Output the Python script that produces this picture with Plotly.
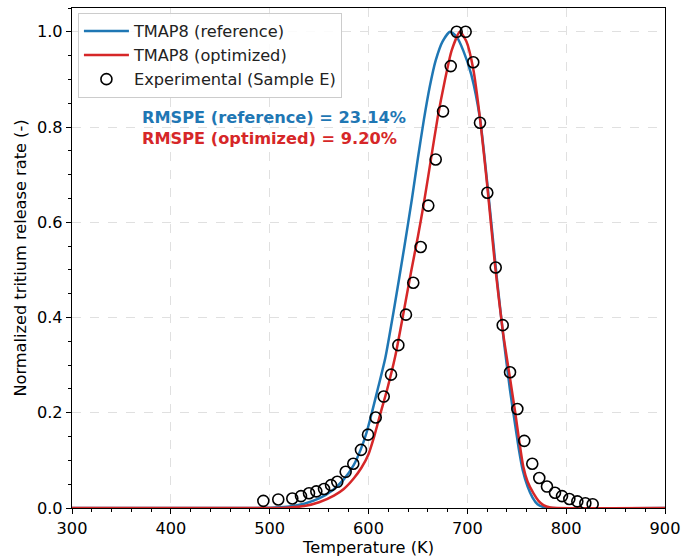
import plotly.graph_objects as go

# Experimental data (Sample E)
exp_T = [493.6, 508.7, 522.9, 531.7, 539.8, 547.2, 555.0, 562.1, 568.4, 576.9, 584.6, 592.4,
         599.5, 607.3, 615.4, 622.8, 630.2, 637.9, 645.3, 652.8, 660.5, 668.0, 675.4, 683.2,
         689.2, 698.3, 706.0, 712.8, 720.2, 728.7, 735.8, 743.2, 750.6, 757.6, 765.7, 772.8,
         780.6, 788.7, 795.8, 803.2, 811.3, 819.4, 826.8]
exp_y = [0.015, 0.018, 0.020, 0.025, 0.031, 0.035, 0.040, 0.048, 0.055, 0.076, 0.093, 0.122,
         0.154, 0.190, 0.234, 0.280, 0.342, 0.406, 0.473, 0.548, 0.635, 0.732, 0.833, 0.928,
         1.000, 1.000, 0.936, 0.809, 0.662, 0.505, 0.384, 0.285, 0.208, 0.141, 0.093, 0.063,
         0.045, 0.032, 0.025, 0.019, 0.014, 0.010, 0.008]

# TMAP8 reference simulation
ref_T = [300, 480, 505, 520, 535, 550, 564, 575, 585, 592, 598, 604, 610, 617, 626, 636, 644,
         650, 656, 662, 668, 675, 682.5, 689, 696, 704, 713, 723, 730, 737, 743, 748, 752, 756,
         761, 766, 771, 777, 785, 900]
ref_y = [0.0, 0.0, 0.001, 0.003, 0.009, 0.020, 0.038, 0.060, 0.090, 0.122, 0.158, 0.205,
         0.255, 0.315, 0.420, 0.545, 0.650, 0.735, 0.815, 0.885, 0.940, 0.980, 1.000, 0.990,
         0.960, 0.910, 0.815, 0.625, 0.480, 0.350, 0.250, 0.180, 0.125, 0.080, 0.045, 0.022,
         0.008, 0.002, 0.0, 0.0]

# TMAP8 optimized simulation
opt_T = [300, 505, 520, 535, 550, 565, 575, 585, 593, 600, 606, 612, 619, 627, 635, 643, 650,
         656, 663, 670, 677, 684, 692.5, 699, 706, 713, 720, 728, 736, 743, 748.5, 752.5,
         756.6, 761, 766.8, 772, 777, 784, 790, 900]
opt_y = [0.0, 0.0, 0.001, 0.004, 0.012, 0.026, 0.040, 0.062, 0.085, 0.113, 0.152, 0.198,
         0.250, 0.318, 0.405, 0.495, 0.570, 0.640, 0.730, 0.820, 0.895, 0.960, 1.000, 0.980,
         0.922, 0.815, 0.680, 0.510, 0.370, 0.275, 0.200, 0.141, 0.087, 0.055, 0.031, 0.015,
         0.006, 0.001, 0.0, 0.0]

x_ticks = [300, 400, 500, 600, 700, 800, 900]
y_ticks = [0.0, 0.2, 0.4, 0.6, 0.8, 1.0]

FONT = "DejaVu Sans"
FS = 16.2
BLUE = "#1f77b4"
RED = "#d62728"

fig = go.Figure()
fig.add_trace(go.Scatter(x=ref_T, y=ref_y, mode="lines", name="TMAP8 (reference)",
                         line=dict(color=BLUE, width=2.5, shape="spline", smoothing=0.6)))
fig.add_trace(go.Scatter(x=opt_T, y=opt_y, mode="lines", name="TMAP8 (optimized)",
                         line=dict(color=RED, width=2.5, shape="spline", smoothing=0.6)))
fig.add_trace(go.Scatter(x=exp_T, y=exp_y, mode="markers", name="Experimental (Sample E)",
                         marker=dict(symbol="circle-open", size=11, color="black",
                                     line=dict(color="black", width=1.6))))

axis_common = dict(
    showline=True, linecolor="black", linewidth=1.2, mirror=True,
    ticks="outside", ticklen=5, tickwidth=1.2, tickcolor="black",
    showgrid=True, gridcolor="#e0e0e0", griddash="dash", gridwidth=1,
    zeroline=False, automargin=False,
    tickfont=dict(family=FONT, size=FS, color="black"),
)

fig.update_xaxes(
    range=[300, 900], tickvals=x_ticks, ticktext=[str(v) for v in x_ticks],
    title=dict(text="Temperature (K)", font=dict(family=FONT, size=FS, color="black"), standoff=4),
    minor=dict(dtick=20, tick0=300, ticks="outside", ticklen=3, tickwidth=1, tickcolor="black", showgrid=False),
    **axis_common,
)
fig.update_yaxes(
    range=[0, 1.05], tickvals=y_ticks, ticktext=[f"{v:.1f}" for v in y_ticks],
    title=dict(text="Normalized tritium release rate (-)", font=dict(family=FONT, size=FS, color="black"), standoff=6),
    minor=dict(dtick=0.05, tick0=0, ticks="outside", ticklen=3, tickwidth=1, tickcolor="black", showgrid=False),
    **axis_common,
)

fig.add_annotation(text="RMSPE (reference) = 23.14%", xref="paper", yref="paper",
                   x=0.1147, y=0.78, xanchor="left", yanchor="middle", showarrow=False,
                   font=dict(family=FONT, size=FS, color=BLUE, weight="bold"))
fig.add_annotation(text="RMSPE (optimized) = 9.20%", xref="paper", yref="paper",
                   x=0.1147, y=0.74, xanchor="left", yanchor="middle", showarrow=False,
                   font=dict(family=FONT, size=FS, color=RED, weight="bold"))

fig.update_layout(
    width=681, height=559,
    margin=dict(l=72, r=16, t=8, b=51),
    paper_bgcolor="white", plot_bgcolor="white",
    font=dict(family=FONT, size=FS, color="black"),
    showlegend=True,
    legend=dict(x=0.01, y=0.99, xanchor="left", yanchor="top",
                bgcolor="rgba(255,255,255,0.85)", bordercolor="#cccccc", borderwidth=1,
                font=dict(family=FONT, size=FS, color="#222"), tracegroupgap=0,
                itemwidth=45),
)

fig.write_html("out.html")
